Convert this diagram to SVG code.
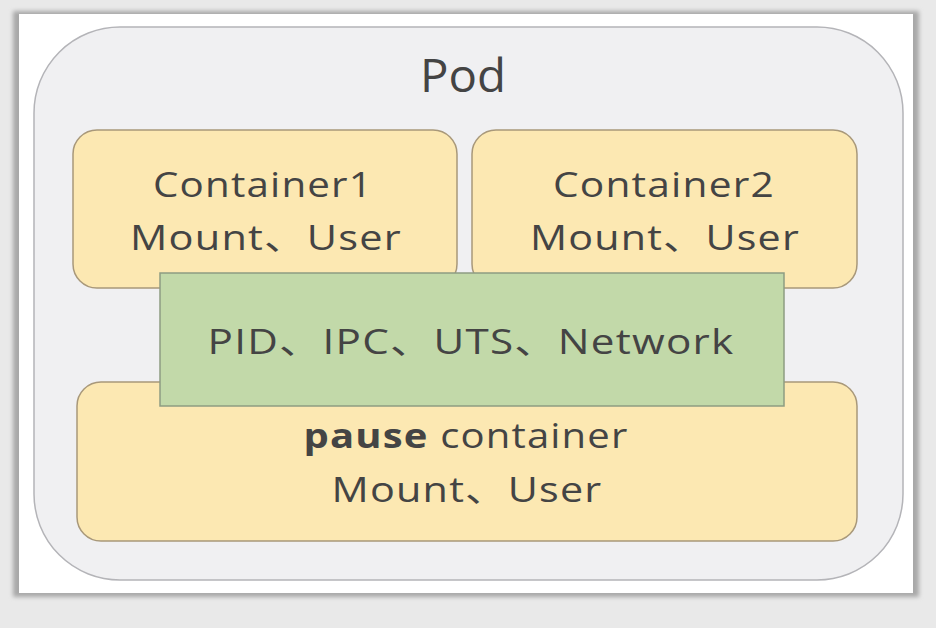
<svg xmlns="http://www.w3.org/2000/svg" width="936" height="628" viewBox="0 0 936 628">
<style>
.t{font-family:"Open Sans","Noto Sans CJK SC",sans-serif;fill:#444444;text-anchor:middle;font-size:34px;letter-spacing:1px}
.b{font-weight:bold}
.y{fill:#fce8b2;stroke:#a8987a;stroke-width:1.5}
.g{fill:#c2d9a9;stroke:#8d9c82;stroke-width:1.5}
</style>
<defs>
<filter id="sh" x="-5%" y="-5%" width="110%" height="110%">
<feGaussianBlur stdDeviation="2"/>
</filter>
</defs>
<rect x="0" y="0" width="936" height="628" fill="#e9e9e9"/>
<rect x="13" y="11" width="906" height="586" fill="#a8a8a8" filter="url(#sh)"/>
<rect x="19" y="14" width="894" height="579" fill="#ffffff"/>
<g id="pod">
<rect x="34" y="27" width="869" height="553" rx="86" ry="86" fill="#f0f0f2" stroke="#b4b4b8" stroke-width="1.5"/>
<text class="t" x="463" y="92" style="font-size:46px;letter-spacing:0" textLength="86" lengthAdjust="spacingAndGlyphs">Pod</text>
</g>
<g id="container1">
<rect class="y" x="73" y="130" width="384" height="158" rx="24" ry="24"/>
<text class="t" x="263" y="197" textLength="220" lengthAdjust="spacingAndGlyphs">Container1</text>
<text class="t" x="266" y="250" textLength="272" lengthAdjust="spacingAndGlyphs">Mount、User</text>
</g>
<g id="container2">
<rect class="y" x="472" y="130" width="385" height="158" rx="24" ry="24"/>
<text class="t" x="664" y="197" textLength="222" lengthAdjust="spacingAndGlyphs">Container2</text>
<text class="t" x="665" y="250" textLength="270" lengthAdjust="spacingAndGlyphs">Mount、User</text>
</g>
<g id="pause">
<rect class="y" x="77" y="382" width="780" height="159" rx="24" ry="24"/>
<text class="t" x="466" y="448" textLength="325" lengthAdjust="spacingAndGlyphs"><tspan class="b">pause</tspan> container</text>
<text class="t" x="467" y="502" textLength="271" lengthAdjust="spacingAndGlyphs">Mount、User</text>
</g>
<g id="shared">
<rect class="g" x="160" y="273" width="624" height="133"/>
<text class="t" x="471" y="354" textLength="527" lengthAdjust="spacingAndGlyphs">PID、IPC、UTS、Network</text>
</g>
<g id="connectors"/>
</svg>
